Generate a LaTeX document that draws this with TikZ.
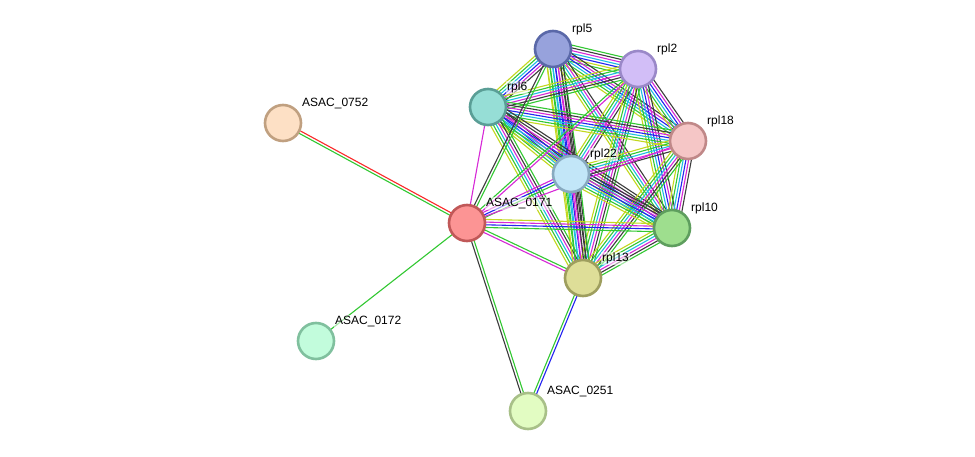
\documentclass[tikz,border=0pt]{standalone}
\usepackage{fontspec}
\setmainfont{Liberation Sans}
\usetikzlibrary{calc}
\pgfdeclarelayer{bgfill}
\pgfdeclarelayer{edges}
\pgfsetlayers{bgfill,edges,main}
\definecolor{gr}{RGB}{50,200,50}
\definecolor{tg}{RGB}{195,215,30}
\definecolor{cy}{RGB}{30,190,225}
\definecolor{bl}{RGB}{35,35,240}
\definecolor{mg}{RGB}{215,40,215}
\definecolor{bk}{RGB}{60,60,60}
\definecolor{rd}{RGB}{250,40,40}
\newcommand\medge[3]{%
 \foreach \c [count=\i] in {#3} {\xdef\nn{\i}}%
 \foreach \c [count=\i] in {#3} {%
   \pgfmathsetmacro\off{(\i-(\nn+1)/2)*2.7}%
   \draw[draw=\c] ($(#1.center)!\off pt!90:(#2.center)$) -- ($(#2.center)!\off pt!-90:(#1.center)$);
 }}
\tikzset{
  prot/.style={circle, minimum size=36pt, inner sep=0pt, line width=2.6pt},
  lab/.style={anchor=base west, font=\fontsize{12}{14}\selectfont, inner sep=1pt, fill=white, fill opacity=0.55, text opacity=1},
}
\begin{document}
\begin{tikzpicture}[x=1pt,y=-1pt]
\begin{pgfonlayer}{bgfill}
\fill[white] (0,0) rectangle (975,457);
\end{pgfonlayer}
\useasboundingbox (0,0) rectangle (975,457);
\node[prot, fill={rgb,255:red,151;green,162;blue,220}, draw={rgb,255:red,90;green,104;blue,168}] (rpl5) at (553,49) {};
\node[prot, fill={rgb,255:red,210;green,190;blue,247}, draw={rgb,255:red,154;green,136;blue,200}] (rpl2) at (638,69) {};
\node[prot, fill={rgb,255:red,150;green,222;blue,214}, draw={rgb,255:red,90;green,158;blue,150}] (rpl6) at (488,107) {};
\node[prot, fill={rgb,255:red,245;green,198;blue,198}, draw={rgb,255:red,192;green,136;blue,136}] (rpl18) at (688,141) {};
\node[prot, fill={rgb,255:red,194;green,230;blue,248}, draw={rgb,255:red,136;green,170;blue,192}] (rpl22) at (571,174) {};
\node[prot, fill={rgb,255:red,252;green,148;blue,148}, draw={rgb,255:red,192;green,88;blue,88}] (a171) at (467,223) {};
\node[prot, fill={rgb,255:red,158;green,222;blue,142}, draw={rgb,255:red,94;green,158;blue,94}] (rpl10) at (672,228) {};
\node[prot, fill={rgb,255:red,222;green,222;blue,152}, draw={rgb,255:red,158;green,158;blue,94}] (rpl13) at (583,278) {};
\node[prot, fill={rgb,255:red,253;green,224;blue,197}, draw={rgb,255:red,192;green,160;blue,128}] (a752) at (283,123) {};
\node[prot, fill={rgb,255:red,194;green,252;blue,220}, draw={rgb,255:red,128;green,192;blue,158}] (a172) at (316,341) {};
\node[prot, fill={rgb,255:red,226;green,252;blue,194}, draw={rgb,255:red,168;green,192;blue,136}] (a251) at (528,411) {};

\node[lab] (l5) at ([shift={(18,-16.5)}]rpl5.center) {rpl5};
\node[lab] (l2) at ([shift={(18,-16.5)}]rpl2.center) {rpl2};
\node[lab] (l6) at ([shift={(18,-16.5)}]rpl6.center) {rpl6};
\node[lab] (l18) at ([shift={(18,-16.5)}]rpl18.center) {rpl18};
\node[lab] (l22) at ([shift={(18,-16.5)}]rpl22.center) {rpl22};
\node[lab] (l171) at ([shift={(18,-16.5)}]a171.center) {ASAC\_0171};
\node[lab] (l10) at ([shift={(18,-16.5)}]rpl10.center) {rpl10};
\node[lab] (l13) at ([shift={(18,-16.5)}]rpl13.center) {rpl13};
\node[lab] (l752) at ([shift={(18,-16.5)}]a752.center) {ASAC\_0752};
\node[lab] (l172) at ([shift={(18,-16.5)}]a172.center) {ASAC\_0172};
\node[lab] (l251) at ([shift={(18,-16.5)}]a251.center) {ASAC\_0251};

\begin{pgfonlayer}{edges}
\begin{scope}[line width=1.1pt]
\medge{rpl5}{rpl2}{gr,tg,bl,cy,mg,bk,gr}
\medge{rpl5}{rpl6}{tg,gr,cy,bl,mg,bk}
\medge{rpl5}{rpl18}{tg,gr,cy,bl,mg,bk}
\medge{rpl5}{rpl22}{tg,gr,cy,bl,mg,bk,gr}
\medge{rpl5}{rpl10}{tg,gr,cy,mg,bk}
\medge{rpl5}{rpl13}{tg,gr,cy,bl,mg,bk,bk}
\medge{rpl2}{rpl6}{tg,gr,cy,mg,bk,gr}
\medge{rpl2}{rpl18}{tg,gr,cy,bl,mg,bk}
\medge{rpl2}{rpl22}{tg,gr,cy,mg,bk}
\medge{rpl2}{rpl10}{tg,gr,cy,bl,mg,bk}
\medge{rpl2}{rpl13}{tg,gr,cy,mg,bk,gr}
\medge{rpl6}{rpl18}{tg,gr,cy,bl,mg,bk,gr}
\medge{rpl6}{rpl22}{tg,gr,cy,bl,mg,bk}
\medge{rpl6}{rpl10}{tg,gr,cy,bl,mg,bk,bk}
\medge{rpl6}{rpl13}{tg,gr,cy,mg,bk,gr}
\medge{rpl18}{rpl22}{tg,gr,cy,mg,bk}
\medge{rpl18}{rpl10}{tg,gr,cy,bl,mg,bk}
\medge{rpl18}{rpl13}{tg,gr,cy,mg,bk,gr}
\medge{rpl22}{rpl10}{tg,gr,cy,bl,mg,bk,bk}
\medge{rpl22}{rpl13}{tg,gr,cy,mg,bk,bk,gr}
\medge{rpl10}{rpl13}{tg,gr,cy,mg,bk,gr}
\medge{a171}{a752}{rd,gr}
\medge{a171}{a172}{gr}
\medge{a171}{a251}{bk,gr}
\medge{a171}{rpl6}{mg}
\medge{a171}{rpl5}{gr,bk}
\medge{a171}{rpl2}{mg,gr}
\medge{a171}{rpl22}{gr,bl,mg}
\medge{a171}{rpl18}{mg}
\medge{a171}{rpl10}{gr,bl,mg,tg}
\medge{a171}{rpl13}{mg,gr}
\medge{rpl13}{a251}{gr,bl}
\end{scope}
\end{pgfonlayer}
\end{tikzpicture}
\end{document}
